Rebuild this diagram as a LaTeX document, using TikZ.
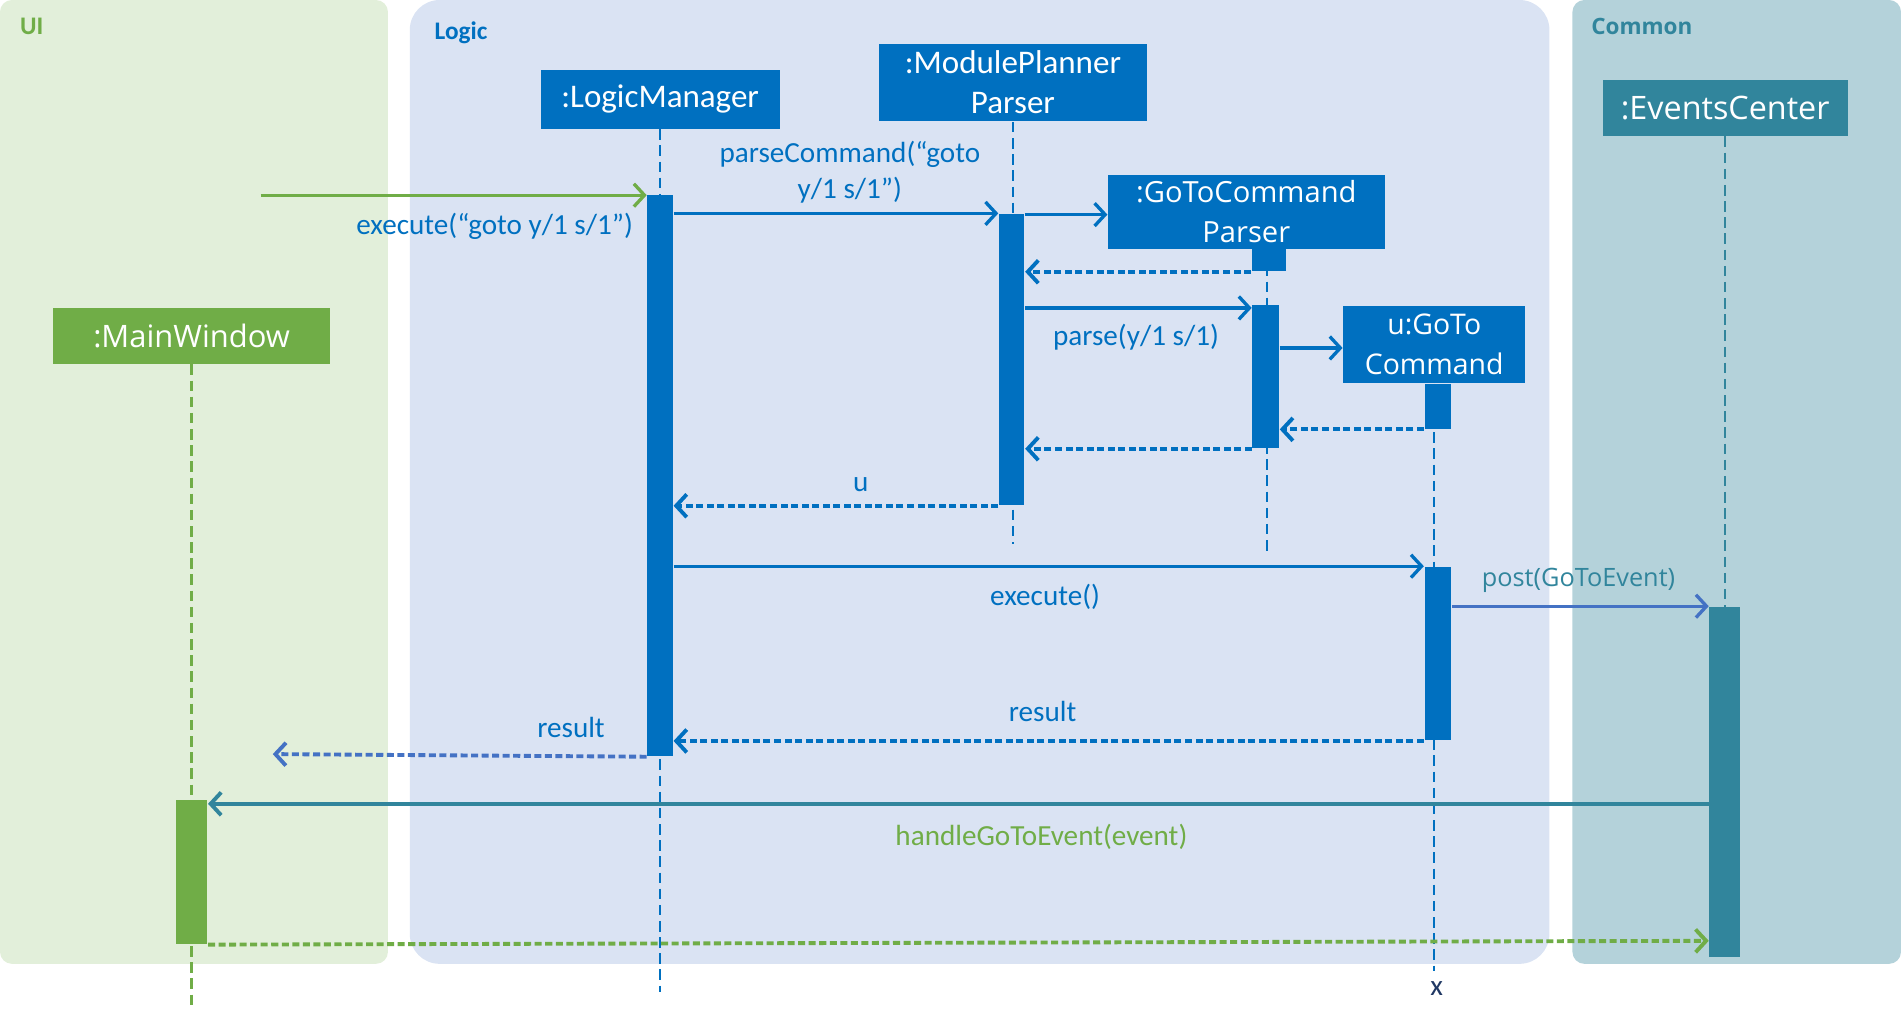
\documentclass[tikz,border=0pt]{standalone}
\usepackage{fontspec}
\setmainfont{Carlito}
\newfontfamily\segoe{Open Sans}
\usepackage{xcolor}
\usetikzlibrary{arrows.meta,positioning}
\definecolor{uiBg}{HTML}{E2EFDA}
\definecolor{logicBg}{HTML}{DAE3F3}
\definecolor{commonBg}{HTML}{B4D2DA}
\definecolor{uiGreen}{HTML}{70AD47}
\definecolor{logicBlue}{HTML}{0070C0}
\definecolor{evTeal}{HTML}{31859C}
\definecolor{retBlue}{HTML}{4472C4}
\definecolor{navy}{HTML}{203864}
\newlength{\pu}
\setlength{\pu}{0.012124cm}

\begin{document}
\begin{tikzpicture}[x=0.012124cm, y=-0.012124cm,
  obj/.style={rectangle, fill=logicBlue, text=white, inner sep=0pt, align=center,
    font=\fontsize{9.4}{11.4}\selectfont},
  act/.style={rectangle, fill=logicBlue, inner sep=0pt, minimum width=21\pu, anchor=north},
  life/.style={logicBlue, line width=0.7pt, dash pattern=on 3pt off 1.6pt},
  msg/.style={logicBlue, line width=0.95pt, -{Straight Barb[length=3pt,width=6.5pt]}},
  ret/.style={msg, line width=1.1pt, dash pattern=on 2pt off 1pt},
  lbl/.style={text=logicBlue, align=center, font=\fontsize{8.3}{10}\selectfont},
  lane/.style={font=\bfseries\fontsize{7.2}{8}\selectfont, anchor=west, inner sep=0pt}]
  \useasboundingbox (0,0) rectangle (1568,839);

  % Lanes
  \fill[uiBg, rounded corners=3.4pt] (0,0) rectangle (320,795);
  \fill[logicBg, rounded corners=8.5pt] (338,0) rectangle (1278,795);
  \fill[commonBg, rounded corners=3.4pt] (1297,0) rectangle (1568,795);
  \node[lane, text=uiGreen] (uiLane) at (16,22) {UI};
  \node[lane, text=logicBlue] (logicLane) at (358,27) {Logic};
  \node[lane, text=evTeal, font=\segoe\bfseries\fontsize{6.4}{8}\selectfont] (commonLane) at (1312,22) {Common};

  % Objects
  \node[obj, minimum width=197\pu, minimum height=48\pu] (lm) at (544.5,82) {:LogicManager};
  \node[obj, minimum width=221\pu, minimum height=64\pu] (mpp) at (835.5,68) {:ModulePlanner\\Parser};
  \node[obj, minimum width=228\pu, minimum height=61\pu, font=\segoe\fontsize{8.3}{11.4}\selectfont] (gtcp) at (1028,174.5) {:GoToCommand\\Parser};
  \node[obj, minimum width=150\pu, minimum height=64\pu, font=\segoe\fontsize{8.1}{11.4}\selectfont] (cmd) at (1183,284) {u:GoTo\\Command};
  \node[obj, fill=evTeal, minimum width=202\pu, minimum height=46\pu, font=\segoe\fontsize{9.2}{11}\selectfont] (ec) at (1423,89) {:EventsCenter};
  \node[obj, fill=uiGreen, minimum width=228\pu, minimum height=46\pu, font=\segoe\fontsize{8.8}{11}\selectfont] (mw) at (158,277) {:MainWindow};

  % Lifelines
  \draw[life] (lm.south) -- ++(0,712);
  \draw[life] (mpp.south) -- ++(0,348);
  \draw[life] (gtcp.south -| 1045,0) -- (1045,458);
  \draw[life] (cmd.south) -- ++(0,484);
  \draw[life, evTeal] (ec.south) -- ++(0,390);
  \draw[life, uiGreen] (mw.south) -- ++(0,530);

  % Activations
  \node[act, minimum height=463\pu] (lmA) at (544.5,160) {};
  \node[act, minimum height=240\pu] (mppA) at (834.5,176) {};
  \node[act, minimum width=28\pu, minimum height=18\pu] (gtcpS) at (1046.5,205) {};
  \node[act, minimum width=22\pu, minimum height=118\pu] (gtcpA) at (1044,251) {};
  \node[act, minimum width=22\pu, minimum height=37\pu] (cmdS) at (1186,316) {};
  \node[act, minimum width=22\pu, minimum height=143\pu] (cmdA) at (1186,467) {};
  \node[act, fill=evTeal, minimum width=25\pu, minimum height=289\pu] (ecA) at (1422.5,500) {};
  \node[act, fill=uiGreen, minimum width=26\pu, minimum height=119\pu] (mwA) at (158,659) {};

  % Messages
  \coordinate (entry) at (215,161);
  \draw[msg, uiGreen] (entry) -- (lmA.west |- entry);
  \node[lbl] (execLbl) at (408,187) {execute(“goto y/1 s/1”)};
  \draw[msg] (lmA.east |- 0,176) -- (mppA.west |- 0,176);
  \node[lbl] (parseCmdLbl) at (701,142) {parseCommand(“goto\\y/1 s/1”)};
  \draw[msg] (mppA.east |- 0,177) -- (gtcp.west |- 0,177);
  \draw[ret] (gtcpS.south west) -- (mppA.east |- gtcpS.south);
  \draw[msg] (mppA.east |- 0,254) -- (gtcpA.west |- 0,254);
  \node[lbl] (parseLbl) at (937,278) {parse(y/1 s/1)};
  \draw[msg] (gtcpA.east |- 0,287) -- (cmd.west |- 0,287);
  \draw[ret] (cmdS.south west) -- (gtcpA.east |- cmdS.south);
  \draw[ret] (gtcpA.south west) -- (mppA.east |- gtcpA.south);
  \draw[ret] (mppA.south west) -- (lmA.east |- mppA.south);
  \node[lbl] (uLbl) at (710,400) {u};
  \draw[msg] (lmA.east |- cmdA.north) -- (cmdA.north west);
  \node[lbl] (execCmdLbl) at (862,492) {execute()};
  \draw[msg, retBlue] (cmdA.east |- ecA.north) -- (ecA.north west);
  \node[lbl, text=evTeal, font=\segoe\fontsize{7.2}{8}\selectfont] (postLbl) at (1302,479) {post(GoToEvent)};
  \draw[ret] (cmdA.south west) -- (lmA.east |- cmdA.south);
  \node[lbl] (resultLbl) at (860,587) {result};
  \coordinate (uiRet) at (225,622);
  \draw[ret, retBlue] (lmA.south west) -- (uiRet);
  \node[lbl] (uiResultLbl) at (471,600) {result};
  \draw[msg, evTeal, line width=1.1pt] (ecA.west |- 0,663) -- (mwA.east |- 0,663);
  \node[lbl, text=uiGreen] (handleLbl) at (859,690) {handleGoToEvent(event)};
  \draw[ret, uiGreen] (mwA.south east) -- (ecA.west |- 0,776);

  % Destroyed
  \node[text=navy, font=\fontsize{8.3}{10}\selectfont] (destroyX) at (1185,815) {x};
\end{tikzpicture}
\end{document}
